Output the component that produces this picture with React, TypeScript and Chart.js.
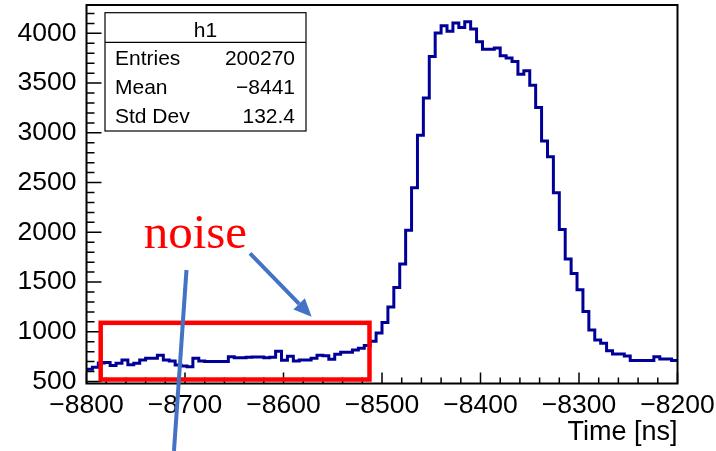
import React, { useEffect, useRef } from 'react';
import { Chart, registerables } from 'chart.js';

Chart.register(...registerables);

// Histogram binning (ns)
const X_MIN = -8800;
const X_MAX = -8200;
const BIN_WIDTH = 6;

// Bin contents, one per 6 ns bin from -8800 to -8200
const BIN_COUNTS = [
  623, 643, 685, 690, 660, 683, 717, 668, 683, 717,
  734, 734, 765, 717, 707, 666, 656, 649, 734, 707,
  700, 700, 700, 700, 748, 740, 740, 744, 746, 746,
  738, 745, 805, 714, 755, 707, 717, 717, 734, 765,
  760, 724, 774, 794, 794, 818, 834, 862, 905, 988,
  1093, 1248, 1446, 1681, 2020, 2447, 2975, 3351, 3768, 4003,
  4076, 4020, 4104, 4060, 4117, 4043, 3915, 3841, 3841, 3852,
  3774, 3751, 3717, 3589, 3623, 3479, 3254, 2917, 2760, 2397,
  2027, 1732, 1587, 1422, 1204, 1019, 918, 885, 810, 777,
  777, 757, 710, 710, 710, 710, 750, 727, 727, 712,
];

// Axis ranges and tick values
const X_TICKS = [-8800, -8700, -8600, -8500, -8400, -8300, -8200];
const X_MINOR_STEP = 20;
const Y_MIN = 480;
const Y_MAX = 4285;
const Y_TICKS = [500, 1000, 1500, 2000, 2500, 3000, 3500, 4000];
const Y_MINOR_STEP = 100;

const X_TITLE = 'Time [ns]';

// Statistics box
const STATS_TITLE = 'h1';
const STATS_LABELS = ['Entries', 'Mean', 'Std Dev'];
const STATS_VALUES = ['200270', '\u22128441', '132.4'];

// Annotation anchors, in data units (time ns, counts)
const NOTE_TEXT = 'noise';
const NOTE_POS = { x: -8742, y: 1839 };
const NOISE_BOX = { x0: -8785.6, x1: -8512.7, y0: 520, y1: 1090 };
const ARROW = { x0: -8634, y0: 1788, x1: -8571.4, y1: 1151 };
const MARKER_LINE = { x0: -8698.5, y0: 1621, x1: -8711.2, y1: -198 };

const SANS = '"Liberation Sans", Arial, sans-serif';
const SERIF = '"Liberation Serif", "Times New Roman", serif';
const HIST_COLOR = '#000099';
const NOTE_RED = '#ff0000';
const NOTE_BLUE = '#4472c4';

const fmtMinus = (v: number) => (v < 0 ? '\u2212' + Math.abs(v) : String(v));

const rootDecorations = {
  id: 'rootDecorations',
  afterDraw(chart: any) {
    const { ctx, chartArea: a, scales } = chart;
    const xs = scales.x;
    const ys = scales.y;
    const px = (v: number) => xs.getPixelForValue(v);
    const py = (v: number) => ys.getPixelForValue(v);
    ctx.save();

    // inward tick marks (major + minor)
    ctx.strokeStyle = '#000';
    ctx.lineWidth = 1.5;
    ctx.beginPath();
    for (let v = X_MIN; v <= X_MAX + 1e-6; v += X_MINOR_STEP) {
      const major = X_TICKS.includes(v);
      const x = px(v);
      ctx.moveTo(x, a.bottom);
      ctx.lineTo(x, a.bottom - (major ? 11 : 6));
    }
    for (let v = Math.ceil(Y_MIN / Y_MINOR_STEP) * Y_MINOR_STEP; v <= Y_MAX; v += Y_MINOR_STEP) {
      const major = Y_TICKS.includes(v);
      const y = py(v);
      ctx.moveTo(a.left, y);
      ctx.lineTo(a.left + (major ? 15 : 8), y);
    }
    ctx.stroke();

    // frame
    ctx.lineWidth = 2;
    ctx.strokeRect(a.left, a.top, a.right - a.left, a.bottom - a.top);

    // statistics box
    const bx0 = 105, bx1 = 306, by0 = 12.7, bySep = 42.3, by1 = 131;
    ctx.fillStyle = '#fff';
    ctx.fillRect(bx0, by0, bx1 - bx0, by1 - by0);
    ctx.lineWidth = 1.2;
    ctx.strokeRect(bx0, by0, bx1 - bx0, by1 - by0);
    ctx.beginPath();
    ctx.moveTo(bx0, bySep);
    ctx.lineTo(bx1, bySep);
    ctx.stroke();
    ctx.fillStyle = '#000';
    ctx.font = `21px ${SANS}`;
    ctx.textBaseline = 'alphabetic';
    ctx.textAlign = 'center';
    ctx.fillText(STATS_TITLE, (bx0 + bx1) / 2, 37.3);
    const rows = [65, 94, 123.3];
    STATS_LABELS.forEach((label, i) => {
      ctx.textAlign = 'left';
      ctx.fillText(label, 115, rows[i]);
      ctx.textAlign = 'right';
      ctx.fillText(STATS_VALUES[i], 295, rows[i]);
    });

    // noise region box
    ctx.strokeStyle = NOTE_RED;
    ctx.lineWidth = 4.5;
    const rx0 = px(NOISE_BOX.x0), rx1 = px(NOISE_BOX.x1);
    const ry0 = py(NOISE_BOX.y1), ry1 = py(NOISE_BOX.y0);
    ctx.strokeRect(rx0, ry0, rx1 - rx0, ry1 - ry0);

    // label
    ctx.fillStyle = NOTE_RED;
    ctx.font = `49px ${SERIF}`;
    ctx.textAlign = 'left';
    ctx.fillText(NOTE_TEXT, px(NOTE_POS.x), py(NOTE_POS.y));

    // arrow to the noise region
    ctx.strokeStyle = NOTE_BLUE;
    ctx.fillStyle = NOTE_BLUE;
    ctx.lineWidth = 4;
    const ax0 = px(ARROW.x0), ay0 = py(ARROW.y0);
    const ax1 = px(ARROW.x1), ay1 = py(ARROW.y1);
    const ang = Math.atan2(ay1 - ay0, ax1 - ax0);
    const headLen = 18, headHalf = 8;
    const bxh = ax1 - headLen * Math.cos(ang), byh = ay1 - headLen * Math.sin(ang);
    ctx.beginPath();
    ctx.moveTo(ax0, ay0);
    ctx.lineTo(bxh, byh);
    ctx.stroke();
    ctx.beginPath();
    ctx.moveTo(ax1, ay1);
    ctx.lineTo(bxh + headHalf * Math.sin(ang), byh - headHalf * Math.cos(ang));
    ctx.lineTo(bxh - headHalf * Math.sin(ang), byh + headHalf * Math.cos(ang));
    ctx.closePath();
    ctx.fill();

    // marker line
    ctx.beginPath();
    ctx.moveTo(px(MARKER_LINE.x0), py(MARKER_LINE.y0));
    ctx.lineTo(px(MARKER_LINE.x1), py(MARKER_LINE.y1));
    ctx.stroke();

    ctx.restore();
  },
};

export default function App() {
  const canvasRef = useRef<HTMLCanvasElement>(null);

  useEffect(() => {
    const canvas = canvasRef.current;
    if (!canvas) return;

    // step outline: each bin contributes its left and right edge at the bin height
    const outline: { x: number; y: number }[] = [];
    BIN_COUNTS.forEach((count, i) => {
      const lo = X_MIN + i * BIN_WIDTH;
      outline.push({ x: lo, y: count }, { x: lo + BIN_WIDTH, y: count });
    });

    const chart = new Chart(canvas, {
      type: 'line',
      data: {
        datasets: [
          {
            data: outline,
            borderColor: HIST_COLOR,
            borderWidth: 3,
            pointRadius: 0,
            fill: false,
            tension: 0,
            borderJoinStyle: 'miter',
          },
        ],
      },
      options: {
        animation: false,
        responsive: false,
        maintainAspectRatio: false,
        layout: { padding: { top: 5, right: 38.5, left: 0, bottom: 0 } },
        plugins: { legend: { display: false }, tooltip: { enabled: false }, title: { display: false } },
        scales: {
          x: {
            type: 'linear',
            min: X_MIN,
            max: X_MAX,
            grid: { display: false },
            border: { display: false },
            afterBuildTicks: (scale: any) => {
              scale.ticks = X_TICKS.map((value) => ({ value }));
            },
            ticks: {
              autoSkip: false,
              maxRotation: 0,
              minRotation: 0,
              padding: -2,
              color: '#000',
              font: { family: SANS, size: 26.5 },
              callback: (v: any) => fmtMinus(Number(v)),
            },
            title: {
              display: true,
              text: X_TITLE,
              align: 'end',
              color: '#000',
              font: { family: SANS, size: 27 },
              padding: { top: 0, bottom: 2 },
            },
            afterFit: (scale: any) => {
              scale.height = 67.5;
              scale.paddingLeft = 0;
              scale.paddingRight = 0;
            },
          },
          y: {
            type: 'linear',
            min: Y_MIN,
            max: Y_MAX,
            grid: { display: false },
            border: { display: false },
            afterBuildTicks: (scale: any) => {
              scale.ticks = Y_TICKS.map((value) => ({ value }));
            },
            ticks: {
              autoSkip: false,
              padding: 2,
              color: '#000',
              font: { family: SANS, size: 26.5 },
              callback: (v: any) => String(v),
            },
            afterFit: (scale: any) => {
              scale.width = 86.5;
              scale.paddingTop = 0;
              scale.paddingBottom = 0;
            },
          },
        },
      },
      plugins: [rootDecorations],
    } as any);

    return () => chart.destroy();
  }, []);

  return (
    <div style={{ position: 'absolute', left: 0, top: 0, width: 716, height: 451, background: '#fff' }}>
      <canvas ref={canvasRef} width={716} height={451} style={{ display: 'block', width: 716, height: 451 }} />
    </div>
  );
}
